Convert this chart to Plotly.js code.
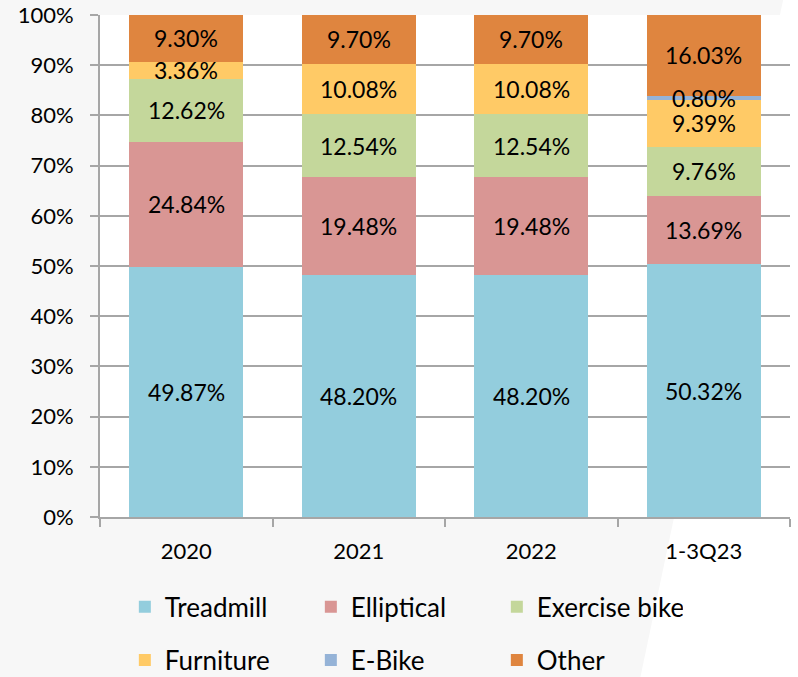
<!DOCTYPE html>
<html>
<head>
<meta charset="utf-8">
<script src="https://cdn.plot.ly/plotly-3.0.1.min.js"></script>
<style>html,body{margin:0;padding:0;background:#f7f7f7;}#chart{width:798px;height:677px;}</style>
</head>
<body>
<div id="chart"></div>
<script>
const categories = ["2020", "2021", "2022", "1-3Q23"];
const treadmill = [49.87, 48.20, 48.20, 50.32];
const elliptical = [24.84, 19.48, 19.48, 13.69];
const exerciseBike = [12.62, 12.54, 12.54, 9.76];
const furniture = [3.36, 10.08, 10.08, 9.39];
const eBike = [0, 0, 0, 0.80];
const other = [9.30, 9.70, 9.70, 16.03];
const seriesNames = ["Treadmill", "Elliptical", "Exercise bike", "Furniture", "E-Bike", "Other"];
const yTickValues = [0, 10, 20, 30, 40, 50, 60, 70, 80, 90, 100];

const seriesValues = [treadmill, elliptical, exerciseBike, furniture, eBike, other];
const colors = ["#93CDDD", "#D99694", "#C4D79B", "#FFCA66", "#95B3D7", "#DF853F"];
const FONT = "Lato, 'Open Sans', sans-serif";

const traces = seriesValues.map((vals, i) => ({
  type: "bar",
  name: seriesNames[i],
  x: categories,
  y: vals,
  marker: {color: colors[i], line: {width: 0}},
  legend: i < 3 ? "legend" : "legend2",
  hoverinfo: "skip"
}));

// data labels centred in each segment (x given as category index)
const annotations = [];
const cum = categories.map(() => 0);
seriesValues.forEach((vals) => {
  vals.forEach((v, j) => {
    if (v > 0) {
      annotations.push({
        x: j, y: cum[j] + v / 2, xref: "x", yref: "y",
        text: v.toFixed(2) + "%", showarrow: false,
        font: {family: FONT, size: 23, color: "#000"}
      });
    }
    cum[j] += v;
  });
});

const gridC = "#a6a6a6";
const legendCommon = {
  orientation: "h", xanchor: "left", yanchor: "middle",
  entrywidth: 141, entrywidthmode: "pixels",
  bgcolor: "rgba(0,0,0,0)", borderwidth: 0,
  font: {family: FONT, size: 26, color: "#000"}, traceorder: "normal"
};
const layout = {
  width: 798, height: 677,
  paper_bgcolor: "#f7f7f7",
  plot_bgcolor: "#ffffff",
  margin: {l: 100, r: 8, t: 15, b: 160, autoexpand: false},
  barmode: "stack",
  bargap: 0.34,
  font: {family: FONT, size: 22, color: "#000"},
  showlegend: true,
  xaxis: {
    type: "category",
    range: [-0.5, categories.length - 0.5],
    tickson: "boundaries",
    ticks: "outside", ticklen: 8, tickwidth: 2, tickcolor: gridC,
    showline: true, linecolor: gridC, linewidth: 2,
    showgrid: false,
    tickfont: {family: FONT, size: 22, color: "#000"},
    ticklabelstandoff: 14
  },
  yaxis: {
    range: [0, 100],
    tickvals: yTickValues,
    ticktext: yTickValues.map(v => v + "%"),
    ticks: "outside", ticklen: 8, tickwidth: 2, tickcolor: gridC,
    showline: true, linecolor: gridC, linewidth: 2,
    showgrid: true, gridcolor: gridC, gridwidth: 2,
    zeroline: false,
    tickfont: {family: FONT, size: 22, color: "#000"},
    ticklabelstandoff: 12
  },
  legend: Object.assign({x: 0.036, y: -0.179}, legendCommon),
  legend2: Object.assign({x: 0.036, y: -0.285}, legendCommon),
  shapes: [
    {type: "path", xref: "paper", yref: "paper", layer: "below",
     path: "M 0.783,-0.32 L 0.99,1.03 L 1.02,1.03 L 1.02,-0.32 Z",
     fillcolor: "#ffffff", line: {width: 0}}
  ],
  annotations: annotations
};

Plotly.newPlot("chart", traces, layout, {displayModeBar: false, staticPlot: true});
</script>
</body>
</html>
